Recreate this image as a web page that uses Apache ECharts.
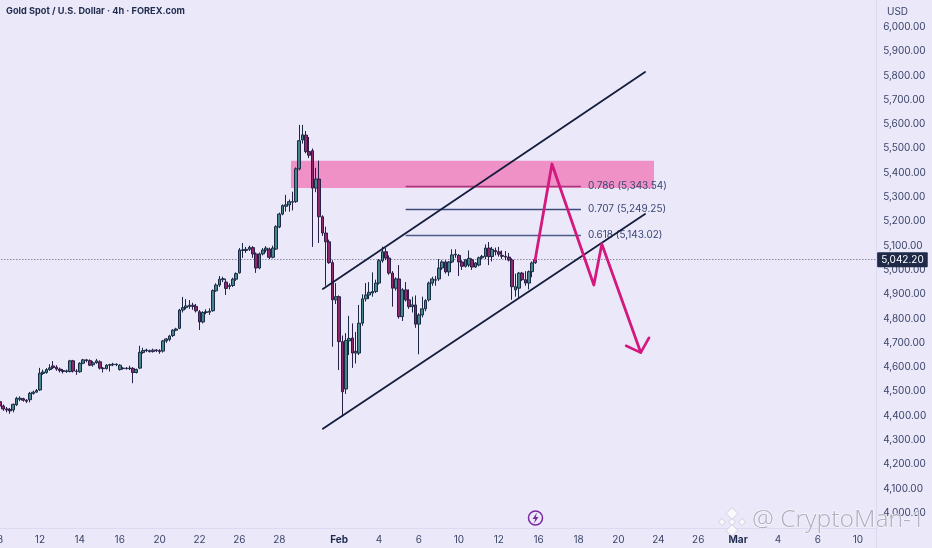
<!DOCTYPE html>
<html><head><meta charset="utf-8">
<style>html,body{margin:0;padding:0;background:#EBE8FA}#c{width:932px;height:548px}</style>
<script src="https://cdn.jsdelivr.net/npm/echarts@6/dist/echarts.min.js"></script>
</head><body><div id="c"></div>
<script>
const opens = [
4458,4440,4428,4426,4424,4445,4468,4470,4464,4466,
4492,4497,4506,4574,4578,4590,4605,4600,4592,4586,
4582,4582,4626,4584,4581,4616,4630,4627,4610,4618,
4622,4596,4594,4608,4610,4610,4590,4596,4594,4594,
4595,4578,4596,4660,4668,4668,4664,4670,4668,4666,
4708,4714,4730,4752,4760,4835,4845,4850,4855,4850,
4828,4786,4825,4826,4832,4914,4938,4960,4950,4932,
4936,4962,4988,5080,5080,5085,5092,5066,5008,5066,
5082,5086,5052,5086,5177,5230,5262,5268,5281,5281,
5416,5535,5555,5487,5491,5337,5374,5219,5152,5116,
5030,4877,4890,4705,4510,4708,4720,4658,4658,4781,
4881,4897,4905,4911,4946,5038,5075,5049,4987,4925,
4963,4808,4918,4877,4849,4856,4777,4815,4840,4877,
4946,4960,4963,5008,5033,4992,5033,5062,5060,5033,
5015,5020,5042,5012,5020,5050,5055,5090,5055,5080,
5075,5060,5056,5053,5041,4918,4925,4987,4960,4946,
4993,5030];
const closes = [
4440,4428,4424,4420,4447,4472,4472,4464,4460,4492,
4497,4504,4575,4580,4590,4597,4598,4592,4586,4582,
4585,4626,4584,4582,4616,4630,4627,4608,4618,4626,
4596,4594,4608,4610,4612,4612,4608,4594,4596,4596,
4578,4590,4661,4668,4670,4664,4670,4668,4664,4708,
4716,4728,4752,4757,4835,4845,4852,4855,4850,4832,
4786,4825,4828,4830,4915,4938,4962,4964,4924,4936,
4962,4985,5082,5083,5085,5093,5066,5008,5066,5082,
5090,5052,5090,5178,5230,5265,5268,5281,5279,5416,
5532,5556,5487,5472,5337,5374,5219,5152,5116,5030,
4877,4890,4705,4499,4710,4718,4658,4665,4781,4881,
4897,4908,4911,4946,5038,5075,5049,4987,4925,4963,
4808,4918,4877,4849,4856,4777,4815,4840,4874,4946,
4963,4958,5008,5033,4992,5033,5062,5065,5033,5015,
5042,5048,5012,5029,5050,5056,5090,5055,5085,5075,
5065,5056,5053,5041,4931,4931,4987,4960,4946,4993,
5029,5042];
const lows = [
4430,4420,4414,4408,4414,4440,4460,4458,4452,4455,
4487,4496,4502,4568,4573,4585,4592,4585,4578,4574,
4576,4578,4578,4568,4577,4612,4620,4604,4602,4614,
4590,4578,4590,4582,4604,4604,4586,4590,4590,4588,
4534,4574,4592,4655,4662,4660,4660,4662,4655,4660,
4700,4706,4724,4748,4756,4825,4838,4840,4836,4825,
4753,4780,4818,4815,4828,4910,4930,4950,4897,4920,
4930,4955,4985,5050,5070,5078,5050,4988,5003,5060,
5072,5045,5048,5082,5172,5225,5240,5240,5245,5276,
5410,5520,5480,5460,5095,5320,5111,5140,4935,5025,
4684,4860,4588,4396,4490,4650,4597,4615,4650,4770,
4870,4880,4890,4905,4940,5030,5040,4980,4849,4915,
4800,4790,4870,4840,4825,4762,4653,4805,4830,4870,
4935,4935,4955,5000,4985,4975,5028,5050,4975,5000,
5010,5012,5000,5008,5015,5045,5045,5020,5035,5060,
5055,5045,5040,5035,4877,4890,4885,4955,4935,4920,
4970,5025];
const highs = [
4466,4446,4436,4432,4450,4478,4480,4474,4468,4498,
4503,4510,4597,4590,4596,4612,4625,4608,4598,4592,
4590,4630,4630,4592,4620,4634,4634,4632,4625,4634,
4628,4600,4612,4614,4618,4616,4612,4600,4600,4606,
4600,4594,4688,4680,4676,4672,4676,4674,4674,4712,
4720,4733,4756,4762,4840,4889,4880,4876,4865,4860,
4835,4830,4838,4842,4920,4945,4975,4972,4964,4945,
4968,4990,5090,5111,5095,5100,5098,5072,5072,5090,
5098,5092,5100,5184,5236,5270,5309,5290,5322,5422,
5597,5597,5572,5547,5500,5420,5450,5225,5178,5125,
5040,4946,4895,4730,4740,4811,4780,4745,4856,4900,
4946,4950,4990,4960,5045,5096,5090,5060,4995,4970,
5020,4925,4950,4920,4890,4895,4822,4890,4880,4952,
4972,4975,5045,5040,5040,5036,5085,5085,5065,5040,
5045,5080,5048,5032,5055,5062,5105,5115,5095,5092,
5095,5080,5078,5070,5048,4985,4992,4992,4995,4998,
5035,5046];

const tickLabels = ['8','12','14','16','20','22','26','28','Feb','4','6','10','12','16','18','20','24','26','Mar','4','6','10'];
const tickBars = [0,12,24,36,48,60,72,84,102,114,126,138,150,162,174,186,198,210,222,234,246,258];
const boldLabels = ['Feb','Mar'];
const priceTicks = [4000,4100,4200,4300,4400,4500,4600,4700,4800,4900,5000,5100,5200,5300,5400,5500,5600,5700,5800,5900,6000];

const lastPrice = 5042.20;
const fibRatios = ['0.786','0.707','0.618'];
const fibPrices = [5343.54,5249.25,5143.02];
const fibColors = ['#A8357C','#3E4C7C','#4C5A86'];
const fibFrom = 122, fibTo = 174.7;
const zoneBars = [87.5,196.7];
const zonePrices = [5337,5449];
const channelUpper = [[97.1,4922],[194,5815]];
const channelLower = [[97.1,4346],[194,5230]];
const arrowPath = [[160.9,5038],[166,5436],[178.6,4938],[181,5107],[192.7,4660]];
const arrowHead = [[188.3,4688],[192.7,4660],[195.2,4721]];

const BG='#EBE8FA', LINE='#DCD9F1', TXT='#3A4468', INK='#141E3C';
const barCount = 264;
const fmt = v => v.toLocaleString('en-US',{minimumFractionDigits:2,maximumFractionDigits:2});
const cats = new Array(barCount).fill('').map((_,i)=>{
  const k = tickBars.indexOf(i);
  if(k<0) return '';
  const t = tickLabels[k];
  return boldLabels.includes(t) ? {value:t,textStyle:{fontWeight:'bold',color:'#1F2A4C'}} : t;
});
const candles = opens.map((o,i)=>[o,closes[i],lows[i],highs[i]]);
const draw = (name,data,color,width,z)=>({type:'line',name,data,xAxisIndex:1,yAxisIndex:0,showSymbol:false,silent:true,z,
  animation:false,lineStyle:{color,width,cap:'round',join:'round'}});

const chart = echarts.init(document.getElementById('c'),null,{renderer:'canvas'});
chart.setOption({
  animation:false,
  backgroundColor:BG,
  textStyle:{fontFamily:'Inter'},
  grid:{left:-1.66,top:0,width:877.8,height:528,containLabel:false,outerBoundsMode:'none'},
  xAxis:[
    {type:'category',data:cats,boundaryGap:true,
     axisLine:{onZero:false,lineStyle:{color:LINE}},axisTick:{show:false},splitLine:{show:false},
     axisLabel:{interval:0,margin:7,fontSize:10,color:TXT,fontFamily:'Inter',hideOverlap:false}},
    {type:'value',min:-0.5,max:barCount-0.5,show:false}
  ],
  yAxis:[{type:'value',position:'right',min:3938,max:6111,scale:true,
    axisLine:{show:true,onZero:false,lineStyle:{color:LINE}},axisTick:{show:false},splitLine:{show:false},
    axisLabel:{customValues:priceTicks,margin:7,fontSize:10,color:TXT,fontFamily:'Inter',align:'left',
      formatter:v=>fmt(v)}}],
  series:[
    Object.assign(draw('zone',[],'transparent',0,1),{
      markArea:{silent:true,itemStyle:{color:'#EF90C6'},z:1,
        data:[[{xAxis:zoneBars[0],yAxis:zonePrices[0]},{xAxis:zoneBars[1],yAxis:zonePrices[1]}]]}
    }),
    Object.assign(draw('fib',[],'transparent',0,3),{
      markLine:{silent:true,symbol:'none',z:3,
        data:fibPrices.map((p,i)=>[
          {coord:[fibFrom,p],lineStyle:{color:fibColors[i],width:1.4,type:'solid'},
           label:{show:true,position:'end',distance:7,color:'#3A4672',fontSize:10,fontFamily:'Inter',
             formatter:fibRatios[i]+' ('+fmt(p)+')'}},
          {coord:[fibTo,p]}
        ])}
    }),
    Object.assign(draw('price',[],'transparent',0,4),{
      markLine:{silent:true,symbol:'none',z:4,
        lineStyle:{color:'#555A7C',width:1,type:[1,2]},
        label:{show:true,position:'end',distance:1,formatter:fmt(lastPrice),color:'#FFFFFF',fontSize:10,fontFamily:'Inter',
          backgroundColor:'#1E2A48',padding:[3,4,2,4],borderRadius:1},
        data:[{yAxis:lastPrice}]}
    }),
    {type:'candlestick',name:'XAUUSD',data:candles,xAxisIndex:0,yAxisIndex:0,barWidth:3.2,z:5,silent:true,
      itemStyle:{color:'#45868A',color0:'#93256A',borderColor:'#1B2A44',borderColor0:'#2A1F46',borderWidth:1}},
    draw('upper',channelUpper,INK,1.8,6),
    draw('lower',channelLower,INK,1.8,6),
    draw('arrow',arrowPath,'#D4187E',2.8,7),
    draw('head',arrowHead,'#D4187E',2.6,7)
  ],
  graphic:[
    {type:'line',z:50,shape:{x1:876.5,y1:0,x2:876.5,y2:548},style:{stroke:LINE,lineWidth:1}},
    {type:'rect',z:60,shape:{x:877,y:0,width:55,height:21},style:{fill:BG}},
    {type:'text',z:61,x:887,y:7,style:{text:'USD',fill:TXT,fontSize:10,fontFamily:'Inter'}},
    {type:'text',z:61,x:6,y:7,style:{text:'Gold Spot / U.S. Dollar · 4h · FOREX.com',fill:'#1E2A4C',fontSize:9.2,fontWeight:'bold',fontFamily:'Inter'}},
    {type:'circle',z:61,shape:{cx:535.5,cy:518,r:7},style:{fill:BG,stroke:'#7B2A9E',lineWidth:1.5}},
    {type:'polygon',z:62,shape:{points:[[537,512.5],[532.5,519],[535.2,519],[534,523.5],[538.5,517],[535.8,517]]},style:{fill:'#7B2A9E'}},
    {type:'group',z:70,x:732,y:522,children:[
      [0,-8.5,6],[-10,0,3.5],[10,0,3.5],[0,0,3.5],[0,8.5,6]
    ].map(d=>({type:'polygon',z:70,shape:{points:[[d[0],d[1]-d[2]],[d[0]+d[2],d[1]],[d[0],d[1]+d[2]],[d[0]-d[2],d[1]]]},style:{fill:'rgba(250,250,253,.9)',stroke:'rgba(190,188,205,.9)',lineWidth:.7}}))},
    {type:'text',z:70,x:752,y:508,style:{text:'@ CryptoMan-1',fill:'rgba(170,168,186,.9)',stroke:'rgba(255,255,255,.8)',lineWidth:1.1,fontSize:24.5,fontWeight:300,fontFamily:'Noto Sans'}}
  ]
});
</script></body></html>
